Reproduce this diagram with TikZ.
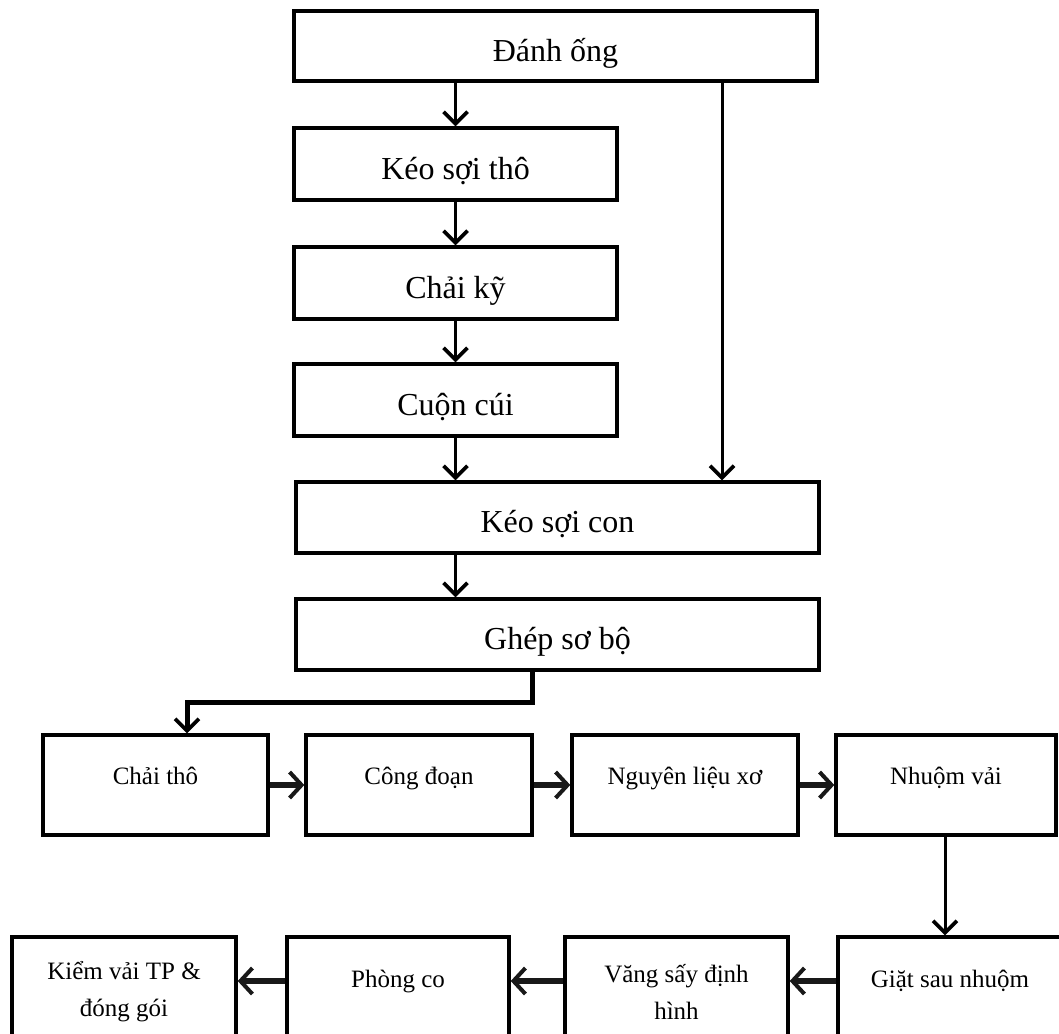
\documentclass[tikz,border=0pt]{standalone}
\usepackage{fontspec}
\setmainfont{Liberation Serif}
\usetikzlibrary{arrows.meta}

\begin{document}
\begin{tikzpicture}[x=1pt, y=-1pt,
  box/.style={draw=black, line width=3.4pt, rectangle, inner sep=0pt},
  upper/.style={box, font=\fontsize{32}{38}\selectfont, text height=34pt, text depth=4pt},
  rowbox/.style={box, font=\fontsize{25}{37}\selectfont, minimum height=100pt, text height=18pt, text depth=20pt},
  lowbox/.style={box, font=\fontsize{25}{37}\selectfont, minimum height=110pt, align=center},
  flow/.style={line width=3pt, -{Straight Barb[length=12pt, width=24pt, line width=3.6pt]}},
  bold flow/.style={line width=6.5pt, draw=black!90, -{Straight Barb[length=12pt, width=26pt, line width=4pt]}},
  feed/.style={line width=5pt, -{Straight Barb[length=12pt, width=24pt, line width=3.6pt]}}
]
\useasboundingbox (0,0) rectangle (1059,1033);

% spinning chain
\node[upper, minimum width=523pt, minimum height=70pt] (danh) at (555.5,46) {Đánh ống};
\node[upper, minimum width=323pt, minimum height=72pt] (keotho) at (455.5,164) {Kéo sợi thô};
\node[upper, minimum width=323pt, minimum height=72pt] (chaiky) at (455.5,283) {Chải kỹ};
\node[upper, minimum width=323pt, minimum height=72pt] (cuon) at (455.5,400) {Cuộn cúi};
\node[upper, minimum width=523pt, minimum height=71pt] (keocon) at (557.5,517.5) {Kéo sợi con};
\node[upper, minimum width=523pt, minimum height=71pt] (ghep) at (557.5,634.5) {Ghép sơ bộ};

% middle row
\node[rowbox, minimum width=225pt] (chaitho) at (155.5,785) {Chải thô};
\node[rowbox, minimum width=226pt] (congdoan) at (419,785) {Công đoạn};
\node[rowbox, minimum width=226pt] (nguyen) at (685,785) {Nguyên liệu xơ};
\node[rowbox, minimum width=220pt] (nhuom) at (946,785) {Nhuộm vải};

% bottom row
\node[lowbox, minimum width=224pt] (kiem) at (124,992) {Kiểm vải TP \&\\đóng gói};
\node[lowbox, minimum width=222pt, text height=17pt, text depth=27pt] (phong) at (398,992) {Phòng co};
\node[lowbox, minimum width=223pt] (vang) at (676.5,992) {Văng sấy định\\hình};
\node[lowbox, minimum width=224pt, text height=17pt, text depth=27pt] (giat) at (950,992) {Giặt sau nhuộm};

% helper positions for the connectors
\coordinate (bypass) at (722,0);
\coordinate (drop) at (532,0);
\coordinate (bend) at (0,702);
\coordinate (entry) at (187,0);
\coordinate (down) at (945,0);
\coordinate (lowline) at (0,981);

\draw[flow] (danh.south -| keotho.north) -- (keotho.north);
\draw[flow] (keotho.south) -- (chaiky.north);
\draw[flow] (chaiky.south) -- (cuon.north);
\draw[flow] (cuon.south) -- (cuon.south |- keocon.north);
\draw[flow] (danh.south -| bypass) -- (keocon.north -| bypass);
\draw[flow] (keocon.south -| cuon.south) -- (ghep.north -| cuon.south);

\draw[feed] (ghep.south -| drop) -- (drop |- bend) -- (entry |- bend) -- (chaitho.north -| entry);

\draw[bold flow] (chaitho.east) -- (congdoan.west);
\draw[bold flow] (congdoan.east) -- (nguyen.west);
\draw[bold flow] (nguyen.east) -- (nhuom.west);

\draw[flow] (nhuom.south -| down) -- (giat.north -| down);

\draw[bold flow] (giat.west |- lowline) -- (vang.east |- lowline);
\draw[bold flow] (vang.west |- lowline) -- (phong.east |- lowline);
\draw[bold flow] (phong.west |- lowline) -- (kiem.east |- lowline);
\end{tikzpicture}
\end{document}
